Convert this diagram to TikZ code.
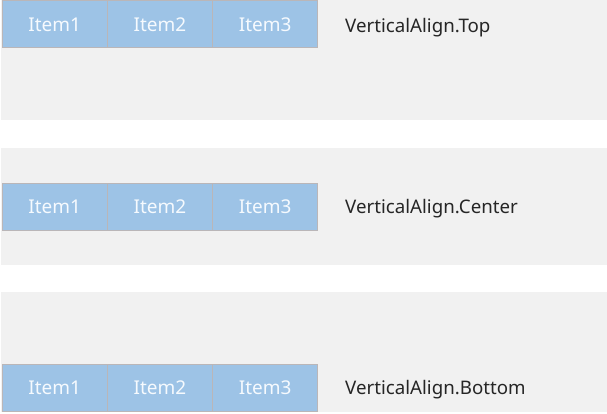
\documentclass[tikz,border=0pt]{standalone}
\usepackage{fontspec}
\setmainfont{Noto Sans}
\usetikzlibrary{positioning}
\definecolor{bandgray}{HTML}{F1F1F1}
\definecolor{itemblue}{HTML}{9DC3E6}
\definecolor{itemline}{HTML}{BAB6B8}
\definecolor{itemtext}{HTML}{F6FAFE}
\tikzset{
  item/.style={draw=itemline, line width=1pt, fill=itemblue, text=itemtext,
    minimum width=105.3pt, minimum height=47pt, inner sep=0pt, outer sep=0pt,
    font=\fontsize{19}{22}\selectfont},
  caption/.style={anchor=base west, inner sep=0pt, text=black!85,
    font=\fontsize{18.7}{22}\selectfont}
}
\begin{document}
\begin{tikzpicture}[x=1pt, y=-1pt]
\useasboundingbox (0,0) rectangle (607,414);
% grey bands
\fill[bandgray] (1,0) rectangle (607,120);
\fill[bandgray] (1,148) rectangle (607,265);
\fill[bandgray] (1,292) rectangle (607,412);
% top
\node[item, anchor=north west] (top1) at (2,1) {Item1};
\node[item, right=0pt of top1] (top2) {Item2};
\node[item, right=0pt of top2] (top3) {Item3};
\node[caption] (toplabel) at (345,32.5) {VerticalAlign.Top};
% center
\node[item, anchor=north west] (center1) at (2,183.5) {Item1};
\node[item, right=0pt of center1] (center2) {Item2};
\node[item, right=0pt of center2] (center3) {Item3};
\node[caption] (centerlabel) at (345,213.5) {VerticalAlign.Center};
% bottom
\node[item, anchor=north west] (bottom1) at (2,364) {Item1};
\node[item, right=0pt of bottom1] (bottom2) {Item2};
\node[item, right=0pt of bottom2] (bottom3) {Item3};
\node[caption] (bottomlabel) at (345,394.5) {VerticalAlign.Bottom};
\end{tikzpicture}
\end{document}
